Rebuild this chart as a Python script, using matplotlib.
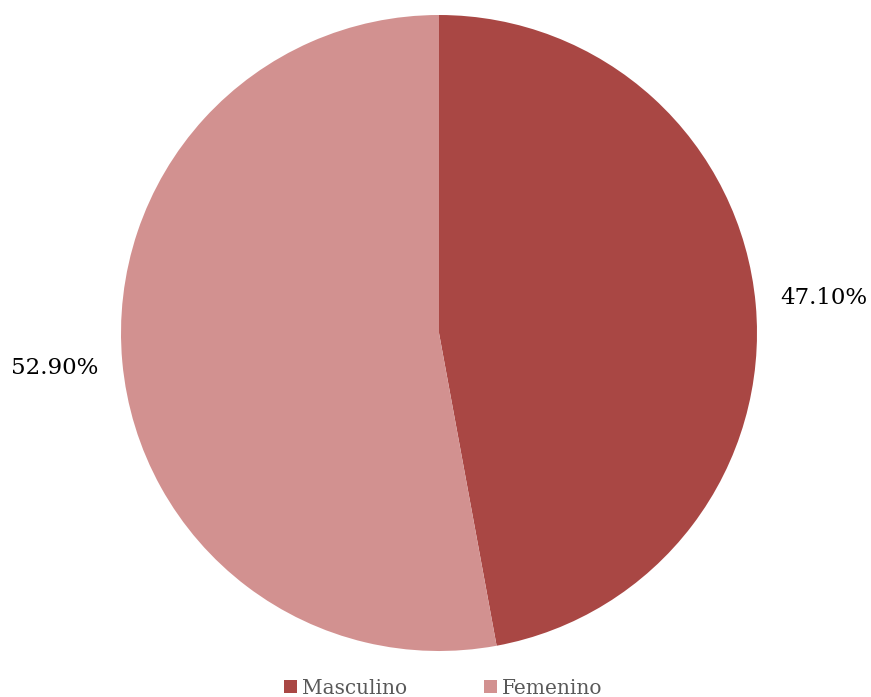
import matplotlib
matplotlib.use("Agg")
import matplotlib.pyplot as plt
from matplotlib.patches import Patch

categories = ["Masculino", "Femenino"]
values = [47.10, 52.90]
colors = ["#A94744", "#D29190"]

plt.rcParams['font.family'] = ['DejaVu Serif']

W, H = 871, 697
fig = plt.figure(figsize=(W/100, H/100), dpi=100)
cx, cy, r = 439, 333, 318
ax = fig.add_axes([(cx - r)/W, (H - cy - r)/H, 2*r/W, 2*r/H])
wedges, texts = ax.pie(values, colors=colors, startangle=90, counterclock=False,
                       labels=[f"{v:.2f}%" for v in values], labeldistance=1.215,
                       wedgeprops=dict(linewidth=0),
                       textprops=dict(fontsize=16.5, color='black'))
for t in texts:
    t.set_ha('center')
    t.set_va('center')
ax.set_aspect('equal')
ax.set_xlim(-1, 1)
ax.set_ylim(-1, 1)
ax.axis('off')

handles = [Patch(facecolor=c, edgecolor='none') for c in colors]
fig.legend(handles, categories, loc='center', bbox_to_anchor=(0.5 + 8/W, 1 - 688/H),
           ncol=2, frameon=False, fontsize=14.5, handlelength=0.65, handleheight=0.65,
           handletextpad=0.25, columnspacing=3.8, labelcolor='#595959')

fig.savefig("out.png", dpi=100)
